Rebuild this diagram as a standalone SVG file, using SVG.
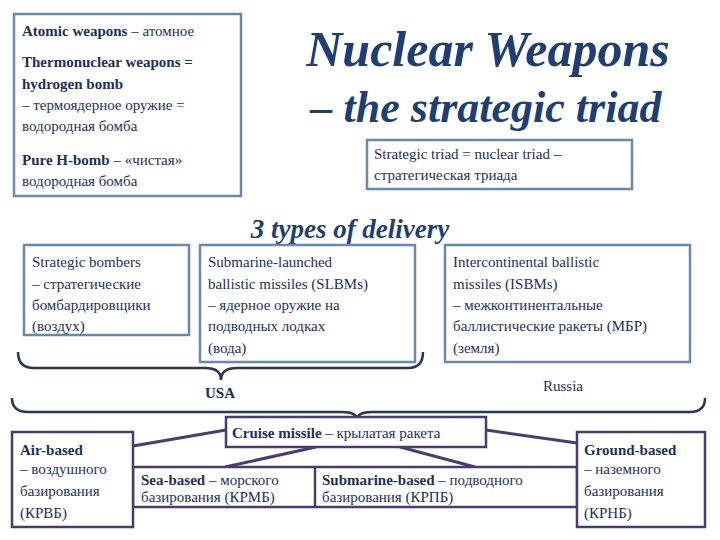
<svg xmlns="http://www.w3.org/2000/svg" width="720" height="540" viewBox="0 0 720 540">
<style>
text{font-family:'Liberation Serif','DejaVu Serif','Times New Roman',serif;font-size:15px;fill:#1d2f55}
.b{font-weight:bold}
.bx{fill:#fff;stroke:#6a88a8;stroke-width:2.5}
.px{fill:#fff;stroke:#4a3c6e;stroke-width:2.5}
.ln{stroke:#4a3c6e;stroke-width:3;fill:none}
.br{stroke:#2a3550;stroke-width:2.5;fill:none}
text.t{font-style:italic;font-weight:bold;fill:#1f3f73}
text.t1{font-size:50px}
text.t2{font-size:44px}
text.t3{font-size:27px}
</style>
<rect width="720" height="540" fill="#fff"/>
<g id="defs-box">
<rect class="bx" x="14" y="14" width="227" height="182"/>
<text x="22" y="36"><tspan class="b">Atomic weapons</tspan> – атомное</text>
<text x="22" y="67" class="b">Thermonuclear weapons =</text>
<text x="22" y="89" class="b">hydrogen bomb</text>
<text x="22" y="110">– термоядерное оружие =</text>
<text x="22" y="131">водородная бомба</text>
<text x="22" y="165"><tspan class="b">Pure H-bomb</tspan> – «чистая»</text>
<text x="22" y="186">водородная бомба</text>
</g>
<g id="title">
<text class="t t1" x="488" y="66" text-anchor="middle">Nuclear Weapons</text>
<text class="t t2" x="486" y="122" text-anchor="middle">– the strategic triad</text>
</g>
<g id="triad">
<rect class="bx" x="367" y="140" width="265" height="49"/>
<text x="374" y="159">Strategic triad = nuclear triad –</text>
<text x="374" y="180">стратегическая триада</text>
</g>
<text class="t t3" x="350" y="238" text-anchor="middle">3 types of delivery</text>
<g id="bombers">
<rect class="bx" x="24" y="245" width="165" height="90"/>
<text x="32" y="267">Strategic bombers</text>
<text x="32" y="289">– стратегические</text>
<text x="32" y="310">бомбардировщики</text>
<text x="32" y="331">(воздух)</text>
</g>
<g id="slbm">
<rect class="bx" x="200" y="245" width="215" height="117"/>
<text x="208" y="267">Submarine-launched</text>
<text x="208" y="289">ballistic missiles (SLBMs)</text>
<text x="208" y="310">– ядерное оружие на</text>
<text x="208" y="331">подводных лодках</text>
<text x="208" y="353">(вода)</text>
</g>
<g id="icbm">
<rect class="bx" x="445" y="245" width="245" height="117"/>
<text x="453" y="267">Intercontinental ballistic</text>
<text x="453" y="289">missiles (ISBMs)</text>
<text x="453" y="310">– межконтинентальные</text>
<text x="453" y="331">баллистические ракеты (МБР)</text>
<text x="453" y="353">(земля)</text>
</g>
<g id="braces">
<path class="br" d="M18 352 Q18 368 34 368 L205 368 Q221 368 221 380 Q221 368 237 368 L408 368 Q423 368 423 352"/>
<path class="br" d="M12 398 Q12 412 28 412 L342 412 Q357 412 357 420 Q357 412 372 412 L690 412 Q705 412 705 398"/>
</g>
<text x="220" y="398" class="b" text-anchor="middle">USA</text>
<text x="563" y="391" text-anchor="middle">Russia</text>
<g id="connectors">
<line class="ln" x1="226" y1="430" x2="133" y2="446"/>
<line class="ln" x1="486" y1="430" x2="577" y2="443"/>
<line class="ln" x1="316" y1="447" x2="225" y2="467"/>
<line class="ln" x1="400" y1="447" x2="475" y2="467"/>
</g>
<g id="based">
<rect class="px" x="133" y="467" width="444" height="40"/>
<line class="px" x1="315" y1="467" x2="315" y2="507"/>
<text x="141" y="485"><tspan class="b">Sea-based</tspan> – морского</text>
<text x="141" y="502">базирования (КРМБ)</text>
<text x="322" y="485"><tspan class="b">Submarine-based</tspan> – подводного</text>
<text x="322" y="502">базирования (КРПБ)</text>
</g>
<g id="cruise">
<rect class="px" x="226" y="417" width="260" height="30"/>
<text x="232" y="438"><tspan class="b">Cruise missile</tspan> – крылатая ракета</text>
</g>
<g id="air">
<rect class="px" x="12" y="432" width="121" height="95"/>
<text x="20" y="455" class="b">Air-based</text>
<text x="20" y="474">– воздушного</text>
<text x="20" y="496">базирования</text>
<text x="20" y="518">(КРВБ)</text>
</g>
<g id="ground">
<rect class="px" x="577" y="432" width="128" height="95"/>
<text x="584" y="455" class="b">Ground-based</text>
<text x="584" y="474">– наземного</text>
<text x="584" y="496">базирования</text>
<text x="584" y="518">(КРНБ)</text>
</g>
</svg>
